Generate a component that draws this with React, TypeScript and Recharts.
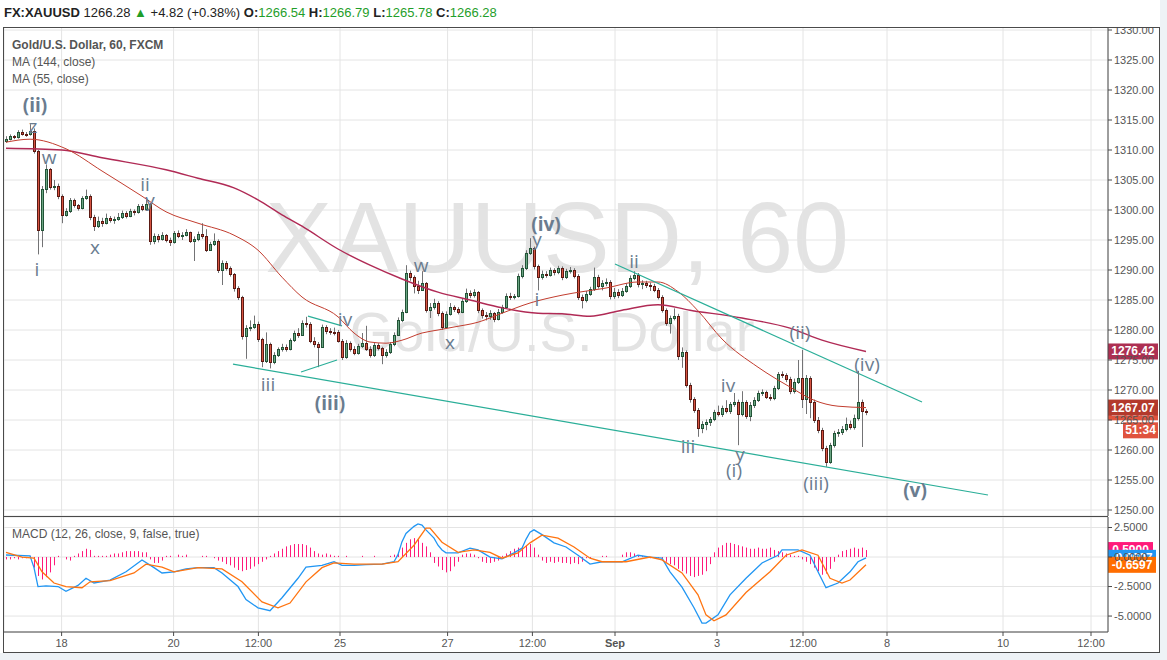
import React from 'react';
import {
  Bar,
  CartesianGrid,
  ComposedChart,
  Line,
  ReferenceDot,
  ReferenceLine,
  XAxis,
  YAxis,
} from 'recharts';

// hourly candles as [high, low, close]; each open is the previous close
const firstOpen = 1311.5;
const candles: [number, number, number][] = [
  [1312.3, 1311.2, 1311.8], [1312.6, 1311.6, 1312.3], [1312.5, 1311.8, 1312.1], [1313.3, 1311.9, 1313.0],
  [1313.4, 1312.4, 1312.7], [1313.0, 1312.2, 1312.6], [1314.3, 1312.4, 1313.2], [1313.6, 1309.4, 1309.8],
  [1310.0, 1292.6, 1296.7], [1304.0, 1293.8, 1303.5], [1307.6, 1302.8, 1306.8], [1307.0, 1303.4, 1303.9],
  [1305.0, 1303.3, 1304.0], [1304.4, 1301.8, 1302.3], [1302.6, 1297.8, 1299.2], [1300.3, 1298.9, 1299.8],
  [1302.0, 1299.5, 1301.7], [1301.9, 1300.4, 1300.8], [1301.0, 1299.9, 1300.3], [1302.3, 1300.1, 1302.0],
  [1303.4, 1301.7, 1302.4], [1302.6, 1298.3, 1298.8], [1299.2, 1296.5, 1297.4], [1298.9, 1297.0, 1298.1],
  [1298.7, 1297.2, 1297.8], [1299.4, 1297.6, 1298.6], [1299.0, 1297.9, 1298.3], [1298.9, 1297.7, 1298.5],
  [1299.5, 1298.2, 1298.8], [1299.9, 1298.5, 1299.5], [1299.8, 1298.6, 1299.0], [1300.2, 1298.8, 1299.8],
  [1300.1, 1299.1, 1299.6], [1301.0, 1299.4, 1300.7], [1301.0, 1299.8, 1300.2], [1302.0, 1300.0, 1301.0],
  [1301.2, 1294.2, 1294.8], [1296.1, 1294.3, 1295.6], [1296.0, 1294.6, 1295.2], [1296.3, 1294.9, 1295.8],
  [1296.0, 1294.6, 1295.0], [1295.4, 1294.0, 1294.6], [1296.5, 1294.4, 1296.2], [1296.6, 1295.3, 1295.7],
  [1296.3, 1295.0, 1295.9], [1296.8, 1295.6, 1296.3], [1296.4, 1294.5, 1294.9], [1295.6, 1291.5, 1295.1],
  [1296.4, 1294.8, 1296.0], [1297.8, 1295.2, 1295.6], [1296.8, 1293.0, 1293.4], [1294.7, 1293.2, 1294.3],
  [1296.1, 1294.0, 1294.9], [1295.1, 1289.5, 1290.0], [1291.6, 1287.5, 1291.2], [1291.5, 1289.9, 1290.3],
  [1290.6, 1288.9, 1289.3], [1289.5, 1286.4, 1287.0], [1287.3, 1285.0, 1285.5], [1285.7, 1278.4, 1279.0],
  [1280.8, 1275.2, 1280.4], [1281.6, 1279.8, 1280.5], [1282.4, 1280.2, 1281.0], [1281.4, 1278.0, 1278.5],
  [1278.7, 1273.8, 1274.8], [1279.6, 1274.5, 1277.7], [1277.9, 1273.6, 1274.6], [1276.3, 1274.3, 1275.8],
  [1277.1, 1275.5, 1276.8], [1277.7, 1276.4, 1277.2], [1277.6, 1276.4, 1276.9], [1278.6, 1276.6, 1278.3],
  [1279.9, 1278.0, 1279.5], [1280.3, 1278.7, 1279.2], [1281.6, 1279.0, 1281.2], [1282.2, 1280.4, 1281.0],
  [1281.3, 1277.8, 1278.2], [1278.8, 1277.1, 1277.6], [1278.0, 1273.8, 1277.2], [1280.9, 1277.0, 1280.5],
  [1280.8, 1279.3, 1279.8], [1280.3, 1279.2, 1279.7], [1280.4, 1279.1, 1279.6], [1280.0, 1277.9, 1278.2],
  [1278.5, 1275.0, 1275.5], [1278.3, 1275.2, 1277.8], [1278.1, 1276.4, 1276.8], [1277.3, 1275.8, 1276.2],
  [1277.7, 1275.9, 1277.3], [1279.5, 1277.0, 1277.8], [1280.7, 1276.5, 1276.9], [1277.3, 1275.4, 1275.8],
  [1277.9, 1275.5, 1277.5], [1277.8, 1276.6, 1277.0], [1277.2, 1274.3, 1275.8], [1276.8, 1275.4, 1276.3],
  [1278.0, 1276.0, 1277.6], [1279.6, 1277.3, 1279.2], [1282.1, 1279.0, 1281.7], [1283.4, 1281.3, 1283.0],
  [1290.8, 1282.8, 1289.5], [1289.9, 1288.2, 1288.8], [1289.1, 1286.1, 1287.4], [1288.2, 1286.0, 1286.7],
  [1289.8, 1286.5, 1287.8], [1288.0, 1282.9, 1283.3], [1284.5, 1282.0, 1283.8], [1285.2, 1283.4, 1284.5],
  [1284.8, 1282.3, 1282.8], [1283.1, 1280.0, 1280.5], [1283.1, 1280.3, 1282.7], [1284.5, 1282.4, 1283.8],
  [1284.1, 1283.0, 1283.5], [1283.8, 1282.6, 1283.0], [1285.2, 1282.8, 1284.8], [1286.9, 1284.5, 1286.2],
  [1286.6, 1285.3, 1285.8], [1286.8, 1285.4, 1286.3], [1286.5, 1282.8, 1283.3], [1283.6, 1281.9, 1282.5],
  [1283.0, 1281.6, 1282.3], [1283.3, 1281.7, 1282.8], [1283.0, 1281.3, 1281.9], [1283.5, 1281.6, 1283.0],
  [1284.2, 1282.7, 1283.8], [1286.1, 1283.5, 1285.7], [1286.2, 1285.0, 1285.5], [1286.0, 1285.1, 1285.6],
  [1289.4, 1285.4, 1289.0], [1290.8, 1288.6, 1290.3], [1293.3, 1290.0, 1292.8], [1295.3, 1292.5, 1293.7],
  [1293.9, 1290.1, 1290.6], [1290.9, 1286.6, 1288.8], [1289.9, 1288.4, 1289.4], [1289.8, 1288.7, 1289.2],
  [1290.4, 1288.9, 1290.0], [1290.3, 1289.1, 1289.6], [1290.7, 1289.3, 1290.3], [1290.6, 1288.3, 1288.8],
  [1290.2, 1288.5, 1289.8], [1290.5, 1289.4, 1290.0], [1290.3, 1288.6, 1289.0], [1289.3, 1285.0, 1285.5],
  [1285.9, 1283.6, 1285.0], [1286.5, 1284.6, 1286.0], [1287.2, 1285.7, 1286.8], [1290.4, 1286.5, 1288.8],
  [1289.2, 1286.9, 1287.3], [1288.3, 1286.6, 1287.8], [1288.6, 1287.3, 1288.0], [1288.3, 1285.1, 1285.6],
  [1287.0, 1285.2, 1286.4], [1286.8, 1285.3, 1285.8], [1287.0, 1285.5, 1286.5], [1287.8, 1286.2, 1287.3],
  [1289.1, 1287.0, 1288.7], [1289.8, 1288.3, 1289.2], [1289.5, 1287.1, 1287.6], [1288.3, 1286.8, 1287.8],
  [1288.2, 1287.0, 1287.5], [1287.9, 1286.5, 1287.4], [1287.7, 1286.3, 1286.7], [1287.0, 1285.1, 1285.5],
  [1285.8, 1282.9, 1283.3], [1283.6, 1280.7, 1281.2], [1282.4, 1279.4, 1282.0], [1283.6, 1281.6, 1282.4],
  [1282.7, 1275.0, 1275.6], [1277.1, 1273.7, 1276.3], [1276.6, 1270.4, 1270.9], [1271.2, 1267.9, 1268.5],
  [1268.8, 1266.2, 1266.7], [1267.0, 1262.2, 1263.7], [1264.8, 1262.8, 1264.3], [1265.1, 1263.3, 1264.6],
  [1265.5, 1264.0, 1265.1], [1266.7, 1264.8, 1266.3], [1267.4, 1265.6, 1266.0], [1267.4, 1265.5, 1267.0],
  [1268.3, 1266.1, 1266.5], [1268.0, 1266.0, 1267.6], [1269.5, 1267.2, 1268.0], [1268.4, 1260.8, 1266.0],
  [1269.8, 1265.6, 1268.0], [1268.3, 1265.2, 1265.7], [1268.0, 1264.8, 1267.5], [1268.8, 1267.0, 1268.3],
  [1269.9, 1268.0, 1269.5], [1270.1, 1269.0, 1269.6], [1269.9, 1268.5, 1268.9], [1269.3, 1268.2, 1268.6],
  [1270.7, 1268.3, 1270.3], [1273.0, 1270.0, 1272.6], [1273.1, 1272.0, 1272.5], [1272.8, 1271.3, 1271.8],
  [1272.2, 1269.3, 1269.8], [1271.9, 1269.4, 1271.4], [1275.0, 1271.0, 1272.0], [1276.7, 1267.0, 1268.5],
  [1272.5, 1266.0, 1272.0], [1272.3, 1265.3, 1268.0], [1268.4, 1264.5, 1265.0], [1265.5, 1262.8, 1263.3],
  [1263.7, 1259.8, 1260.3], [1260.7, 1257.2, 1258.0], [1261.2, 1257.7, 1260.8], [1263.2, 1260.4, 1262.8],
  [1263.5, 1262.2, 1263.0], [1264.0, 1262.5, 1263.5], [1265.4, 1263.1, 1264.3], [1264.9, 1263.4, 1263.8],
  [1265.9, 1263.4, 1265.4], [1273.2, 1264.9, 1268.0], [1268.4, 1260.5, 1266.5], [1266.8, 1265.8, 1266.3],
];

// moving averages read at a few candle indices: [index, value]
const ma144Points: [number, number][] = [
  [0, 1310.3], [14, 1310.0], [24, 1308.7], [40, 1306.7], [48, 1305.3], [57, 1303.7], [63, 1301.7],
  [69, 1299.2], [74, 1297.3], [83, 1293.5], [91, 1290.8], [99, 1288.5], [108, 1286.3], [116, 1285.0],
  [124, 1283.7], [133, 1282.8], [139, 1282.7], [146, 1282.3], [154, 1283.3], [163, 1284.2], [171, 1283.3],
  [184, 1282.0], [196, 1280.3], [204, 1278.3], [215, 1276.42],
];
const ma55Points: [number, number][] = [
  [0, 1311.3], [6, 1311.8], [15, 1310.2], [24, 1306.5], [34, 1302.3], [40, 1299.7], [48, 1297.8],
  [57, 1295.8], [63, 1293.3], [69, 1288.8], [74, 1285.5], [83, 1282.2], [87, 1279.5], [91, 1278.0],
  [95, 1277.8], [99, 1278.3], [104, 1279.5], [108, 1280.0], [112, 1280.5], [118, 1281.3], [124, 1282.8],
  [131, 1284.5], [139, 1285.8], [150, 1287.0], [158, 1288.0], [163, 1288.0], [168, 1286.4], [173, 1283.2],
  [179, 1278.5], [188, 1273.8], [196, 1270.5], [202, 1268.3], [208, 1267.3], [215, 1267.07],
];

const macdPoints: [number, number][] = [
  [0, 0.17], [6, 0.1], [7, -0.9], [8, -2.5], [10, -2.45], [13, -2.5], [15, -2.9], [18, -2.4], [20, -1.8],
  [22, -2.2], [26, -1.95], [30, -1.25], [34, -0.25], [37, -0.9], [39, -1.35], [42, -1.25], [45, -1.0],
  [48, -0.9], [52, -0.9], [54, -1.35], [58, -2.5], [60, -3.6], [63, -4.3], [66, -4.55], [69, -3.45],
  [73, -1.8], [75, -0.85], [79, -0.7], [82, -0.4], [84, -0.7], [87, -0.7], [90, -0.65], [94, -0.6],
  [97, -0.4], [98, 0.2], [99, 1.3], [100, 2.0], [102, 2.6], [103, 2.8], [104, 2.7], [105, 2.3], [107, 1.6],
  [108, 1.0], [109, 0.6], [110, 0.35], [113, 0.35], [116, 0.75], [118, 0.6], [121, 0.0], [124, -0.15],
  [127, 0.35], [129, 0.75], [130, 1.5], [131, 2.1], [132, 2.3], [134, 1.9], [137, 1.2], [140, 0.85],
  [143, 0.15], [146, -0.6], [149, -0.4], [154, -0.4], [158, 0.15], [161, 0.0], [164, -0.1], [166, -1.25],
  [169, -2.55], [172, -4.3], [174, -5.6], [175, -5.6], [178, -4.9], [181, -3.2], [185, -1.8], [189, -0.5],
  [193, 0.15], [194, 0.6], [198, 0.6], [201, 0.15], [203, -1.25], [205, -2.6], [208, -2.2], [211, -1.25],
  [213, -0.4], [215, -0.0697],
];
const signalPoints: [number, number][] = [
  [0, 0.4], [4, 0.0], [7, -0.1], [9, -1.25], [12, -2.2], [15, -2.5], [19, -2.6], [21, -2.1], [26, -2.0],
  [32, -1.35], [35, -0.6], [39, -0.85], [42, -1.25], [48, -0.9], [54, -1.0], [59, -2.1], [64, -3.8],
  [68, -4.3], [71, -3.9], [75, -2.1], [79, -0.9], [82, -0.5], [87, -0.6], [94, -0.6], [98, -0.4],
  [102, 1.0], [105, 2.45], [106, 2.45], [109, 1.25], [113, 0.4], [117, 0.6], [121, 0.4], [124, -0.1],
  [128, 0.35], [131, 1.2], [134, 1.85], [138, 1.6], [142, 0.85], [146, -0.1], [149, -0.4], [155, -0.4],
  [161, 0.0], [164, -0.25], [169, -1.35], [173, -3.2], [175, -4.9], [177, -5.4], [180, -4.9], [185, -3.0],
  [191, -1.25], [195, 0.15], [199, 0.6], [203, 0.15], [206, -1.8], [209, -2.2], [211, -1.95], [215, -0.6597],
];

const histogram: number[] = [
  -0.2, -0.2, -0.1, -0.2, -0.1, -0.1, 0.1, -0.9, -1.6, -1.9, -1.7, -1.3, -0.7, 0.1, 0, -0.2, -0.3, 0.1, 0.3, 0.5,
  0.7, 0.6, 0.1, 0.1, 0.1, 0.1, 0.2, 0.3, 0.3, 0.4, 0.5, 0.5, 0.5, 0.5, 0.4, 0.4, -0.2, -0.5, -0.5, -0.3,
  0.1, 0.1, 0, 0.2, 0.1, 0.2, 0, 0, 0, 0.1, 0.1, 0, -0.1, -0.3, -0.4, -0.6, -0.7, -0.9, -1.1, -1.2,
  -1.1, -1.0, -0.8, -0.6, -0.4, -0.2, 0.1, 0.3, 0.5, 0.7, 0.9, 1.0, 1.1, 1.1, 1.1, 1.0, 0.8, 0.5, 0.3, 0.2,
  0.3, 0.2, 0.1, 0.1, 0, 0.1, 0, 0, 0, 0.1, 0, 0, 0.1, 0, 0, 0, 0.1, 0.2, 0.4, 0.8,
  1.2, 1.5, 1.6, 1.5, 1.2, 0.9, 0.4, -0.5, -0.8, -1.1, -1.3, -1.2, -0.8, -0.4, 0.2, 0.3, 0.3, 0.2, -0.1, -0.4,
  -0.5, -0.5, -0.4, -0.3, 0.1, 0.3, 0.5, 0.7, 0.8, 0.9, 1.0, 1.1, 0.8, 0.2, -0.3, -0.5, -0.4, -0.5, -0.4, -0.5,
  -0.5, -0.6, -0.5, -0.6, -0.4, -0.1, -0.1, 0, 0, 0.1, 0.1, 0, 0, 0, 0.2, 0.4, 0.4, 0.3, 0.1, 0.1,
  0, -0.1, 0, -0.1, -0.2, -0.4, -0.6, -0.7, -1.0, -1.2, -1.4, -1.6, -1.7, -1.6, -1.5, -1.2, -0.6, 0.4, 0.8, 1.0,
  1.2, 1.2, 1.1, 1.0, 0.9, 0.8, 0.7, 0.7, 0.8, 0.7, 0.7, 0.8, 0.6, 0.5, 0.4, 0.3, 0.2, 0.1, 0.1, -0.2,
  -0.4, -0.6, -0.9, -1.2, -1.5, -1.4, -1.0, -0.4, 0.2, 0.5, 0.6, 0.7, 0.8, 0.7, 0.8, 0.59,
];

const slotCount = 276; // candles plus empty future bars on the right

const timeTicks = [13.9, 41.9, 63.1, 83.5, 110.4, 131.6, 152.25, 177.75, 199.25, 220.25, 249.25, 271.25];
const timeLabels = ['18', '20', '12:00', '25', '27', '12:00', 'Sep', '3', '12:00', '8', '10', '12:00'];
const priceTicks = [1250, 1255, 1260, 1265, 1270, 1275, 1280, 1285, 1290, 1295, 1300, 1305, 1310, 1315, 1320, 1325, 1330];
const macdTicks = [2.5, 0, -2.5, -5];

const waveLabels: { i: number; p: number; text: string; bold?: boolean }[] = [
  { i: 7.25, p: 1317.3, text: '(ii)', bold: true },
  { i: 6.75, p: 1313.8, text: 'z' },
  { i: 10.75, p: 1308.7, text: 'w' },
  { i: 7.75, p: 1290.0, text: 'i' },
  { i: 34.75, p: 1304.2, text: 'ii' },
  { i: 36, p: 1301.5, text: 'y' },
  { i: 22.25, p: 1293.7, text: 'x' },
  { i: 65.5, p: 1270.8, text: 'iii' },
  { i: 81, p: 1267.7, text: '(iii)', bold: true },
  { i: 84.75, p: 1281.7, text: 'iv' },
  { i: 103.75, p: 1290.7, text: 'w' },
  { i: 111, p: 1277.8, text: 'x' },
  { i: 135, p: 1297.5, text: '(iv)', bold: true },
  { i: 132.75, p: 1295.0, text: 'y' },
  { i: 132.75, p: 1285.0, text: 'i' },
  { i: 157, p: 1291.3, text: 'ii' },
  { i: 170.5, p: 1260.5, text: 'iii' },
  { i: 180.5, p: 1270.7, text: 'iv' },
  { i: 183.5, p: 1259.2, text: 'y' },
  { i: 182, p: 1256.5, text: '(i)' },
  { i: 198.5, p: 1279.5, text: '(ii)' },
  { i: 202.5, p: 1254.3, text: '(iii)' },
  { i: 215.25, p: 1274.2, text: '(iv)' },
  { i: 227.25, p: 1253.2, text: '(v)', bold: true },
];

// drawn trend lines: [startIndex, startPrice, endIndex, endPrice]
const trendLines: [number, number, number, number][] = [
  [56.75, 1274.3, 245.5, 1252.5],
  [152.25, 1291.0, 229, 1268.0],
  [73.75, 1273.0, 82.75, 1275.0],
  [75.5, 1282.3, 84, 1280.7],
];

const lastClose = 1266.28;

const ma144Map = new Map(ma144Points);
const ma55Map = new Map(ma55Points);
const macdMap = new Map(macdPoints);
const signalMap = new Map(signalPoints);

const rows = Array.from({ length: slotCount }, (_, i) => {
  const k = candles[i];
  const row: any = {
    i,
    ma144: ma144Map.get(i) ?? null,
    ma55: ma55Map.get(i) ?? null,
    macd: macdMap.get(i) ?? null,
    signal: signalMap.get(i) ?? null,
    hist: histogram[i] ?? null,
  };
  if (k) {
    row.o = i === 0 ? firstOpen : candles[i - 1][2];
    row.h = k[0];
    row.l = k[1];
    row.c = k[2];
    row.range = [k[1], k[0]];
  }
  return row;
});

const AXIS_FONT = 'Liberation Sans, Arial, sans-serif';
const LABEL_FONT = '"Open Sans", "Liberation Sans", sans-serif';
const WAVE_COLOR = '#6a7c8f';

function Candle(props: any) {
  const { x, width, y, height, payload } = props;
  if (!payload || payload.h == null || !isFinite(y) || !isFinite(height)) return null;
  const { o, h, l, c } = payload;
  const span = h - l || 1;
  const py = (v: number) => y + ((h - v) / span) * height;
  const center = Math.round(x + width / 2);
  const up = c >= o;
  const top = Math.round(py(Math.max(o, c))) + 0.5;
  const bottom = Math.max(Math.round(py(Math.min(o, c))) + 0.5, top + 1);
  return (
    <g>
      <line x1={center + 0.5} x2={center + 0.5} y1={y} y2={y + height} stroke="#737375" strokeWidth={1} />
      <rect
        x={center - 0.5}
        y={top}
        width={2}
        height={bottom - top}
        fill={up ? '#6ba583' : '#d75442'}
        stroke={up ? '#225437' : '#5b1a13'}
        strokeWidth={1}
      />
    </g>
  );
}

function HistBar(props: any) {
  const { x, width, y, height } = props;
  if (!isFinite(y) || !isFinite(height)) return null;
  const top = Math.min(y, y + height);
  return <rect x={Math.round(x + width / 2)} y={top} width={1} height={Math.abs(height)} fill="#ff1a7a" />;
}

function Badge(props: any) {
  const { viewBox, text, bg, width = 50, dx = 0, dy = 0 } = props;
  if (!viewBox) return null;
  const x = viewBox.x + viewBox.width + dx;
  const y = viewBox.y + dy;
  return (
    <g>
      <rect x={x} y={y - 8} width={width} height={16} fill={bg} />
      <text x={x + width / 2} y={y + 4} textAnchor="middle" fill="#fff" fontSize={12} fontWeight={700} fontFamily={AXIS_FONT}>
        {text}
      </text>
    </g>
  );
}

function TimeTick(props: any) {
  const label = timeLabels[timeTicks.indexOf(props.payload.value)] ?? '';
  return (
    <text x={props.x} y={props.y} dy={9} textAnchor="middle" fontSize={11} fill="#555" fontFamily={AXIS_FONT} fontWeight={label === 'Sep' ? 700 : 400}>
      {label}
    </text>
  );
}

const margin = { top: 0, right: 7, bottom: 0, left: 4 };

function PricePane() {
  return (
    <ComposedChart width={1167} height={489} data={rows} margin={margin}>
      <XAxis xAxisId="num" dataKey="i" type="number" domain={[-0.5, slotCount - 0.5]} ticks={timeTicks} allowDataOverflow hide height={0} />
      <XAxis dataKey="i" type="category" hide height={0} />
      <YAxis
        orientation="right"
        width={52}
        domain={[1249, 1330.5]}
        ticks={priceTicks}
        interval={0}
        allowDataOverflow
        tickFormatter={(v: number) => v.toFixed(2)}
        tick={{ fontSize: 11, fill: '#555', fontFamily: AXIS_FONT }}
        tickSize={4}
        tickMargin={2}
        axisLine={{ stroke: '#4a4a4a' }}
        tickLine={{ stroke: '#4a4a4a' }}
      />
      <CartesianGrid xAxisId="num" stroke="#e4e4e4" />
      <Line dataKey="ma144" type="monotone" stroke="#b02a55" strokeWidth={1.4} dot={false} connectNulls isAnimationActive={false} />
      <Line dataKey="ma55" type="monotone" stroke="#c23d2f" strokeWidth={1} dot={false} connectNulls isAnimationActive={false} />
      <Bar dataKey="range" shape={(p: any) => <Candle {...p} />} isAnimationActive={false} />
      {trendLines.map(([x1, y1, x2, y2], k) => (
        <ReferenceLine
          key={`t${k}`}
          xAxisId="num"
          segment={[{ x: x1, y: y1 }, { x: x2, y: y2 }]}
          stroke="#2aae98"
          strokeWidth={1.2}
          ifOverflow="visible"
        />
      ))}
      {waveLabels.map((w, k) => (
        <ReferenceDot
          key={`w${k}`}
          xAxisId="num"
          x={w.i}
          y={w.p}
          r={0}
          ifOverflow="visible"
          shape={(p: any) => (
            <text
              x={p.cx}
              y={p.cy}
              dy={6}
              textAnchor="middle"
              fontSize={19}
              fontWeight={w.bold ? 700 : 400}
              fill={WAVE_COLOR}
              fontFamily={LABEL_FONT}
            >
              {w.text}
            </text>
          )}
        />
      ))}
      <ReferenceLine y={lastClose} stroke="none" ifOverflow="visible" label={<Badge text={lastClose.toFixed(2)} bg="#e0533e" />} />
      <ReferenceLine y={lastClose} stroke="none" ifOverflow="visible" label={<Badge text="51:34" bg="#e0533e" width={35} dx={15} dy={18} />} />
      <ReferenceLine y={1267.07} stroke="none" ifOverflow="visible" label={<Badge text="1267.07" bg="#b3392c" />} />
      <ReferenceLine y={1276.42} stroke="none" ifOverflow="visible" label={<Badge text="1276.42" bg="#ad2f52" />} />
    </ComposedChart>
  );
}

function MacdPane() {
  const lastMacd = macdPoints[macdPoints.length - 1][1];
  const lastSignal = signalPoints[signalPoints.length - 1][1];
  const lastHist = histogram[histogram.length - 1];
  return (
    <ComposedChart width={1167} height={136} data={rows} margin={margin}>
      <XAxis
        xAxisId="num"
        dataKey="i"
        type="number"
        domain={[-0.5, slotCount - 0.5]}
        ticks={timeTicks}
        interval={0}
        allowDataOverflow
        height={21}
        tick={<TimeTick />}
        tickSize={4}
        tickMargin={2}
        axisLine={{ stroke: '#4a4a4a' }}
        tickLine={{ stroke: '#4a4a4a' }}
      />
      <XAxis dataKey="i" type="category" hide height={0} />
      <YAxis
        orientation="right"
        width={52}
        domain={[-6.35, 3.39]}
        ticks={macdTicks}
        interval={0}
        allowDataOverflow
        tickFormatter={(v: number) => v.toFixed(4)}
        tick={{ fontSize: 11, fill: '#555', fontFamily: AXIS_FONT }}
        tickSize={4}
        tickMargin={2}
        axisLine={{ stroke: '#4a4a4a' }}
        tickLine={{ stroke: '#4a4a4a' }}
      />
      <CartesianGrid xAxisId="num" stroke="#e4e4e4" />
      <Bar dataKey="hist" shape={(p: any) => <HistBar {...p} />} isAnimationActive={false} />
      <Line dataKey="macd" type="linear" stroke="#2196f3" strokeWidth={1.3} dot={false} connectNulls isAnimationActive={false} />
      <Line dataKey="signal" type="linear" stroke="#ff7410" strokeWidth={1.3} dot={false} connectNulls isAnimationActive={false} />
      <ReferenceLine y={lastHist} stroke="none" ifOverflow="visible" label={<Badge text={lastHist.toFixed(4)} bg="#ff1a7a" width={45} />} />
      <ReferenceLine y={lastMacd} stroke="none" ifOverflow="visible" label={<Badge text={lastMacd.toFixed(4)} bg="#2196f3" width={48} />} />
      <ReferenceLine y={lastSignal} stroke="none" ifOverflow="visible" label={<Badge text={lastSignal.toFixed(4)} bg="#ff6d00" width={48} />} />
    </ComposedChart>
  );
}

export default function App() {
  const abs = (s: React.CSSProperties): React.CSSProperties => ({ position: 'absolute', ...s });
  const green = { color: '#1f9e2a' };
  return (
    <div style={abs({ left: 0, top: 0, width: 1167, height: 660, background: '#eef2f6', overflow: 'hidden', fontFamily: AXIS_FONT })}>
      <div style={abs({ left: 0, top: 0, width: 1160, height: 653, background: '#fff' })} />
      <div style={abs({ left: 4, top: 5, fontSize: 13, color: '#222', whiteSpace: 'nowrap' })}>
        <b>FX:XAUUSD</b> 1266.28 <span style={green}>▲</span> +4.82 (+0.38%) <b>O:</b>
        <span style={green}>1266.54</span> <b>H:</b>
        <span style={green}>1266.79</span> <b>L:</b>
        <span style={green}>1265.78</span> <b>C:</b>
        <span style={green}>1266.28</span>
      </div>
      <div style={abs({ left: 157, top: 187, width: 800, textAlign: 'center', fontSize: 100, lineHeight: '100px', color: '#e3e3e3', whiteSpace: 'nowrap' })}>
        XAUUSD, 60
      </div>
      <div style={abs({ left: 252, top: 304, width: 600, textAlign: 'center', fontSize: 56, lineHeight: '56px', color: '#e3e3e3', whiteSpace: 'nowrap' })}>
        Gold/U.S. Dollar
      </div>
      <div style={abs({ left: 0, top: 27 })}>
        <PricePane />
      </div>
      <div style={abs({ left: 0, top: 517 })}>
        <MacdPane />
      </div>
      <div style={abs({ left: 12, top: 37, fontSize: 12, color: '#555', lineHeight: '17px' })}>
        <div style={{ fontWeight: 700 }}>Gold/U.S. Dollar, 60, FXCM</div>
        <div>MA (144, close)</div>
        <div>MA (55, close)</div>
      </div>
      <div style={abs({ left: 12, top: 527, fontSize: 12, color: '#555' })}>MACD (12, 26, close, 9, false, true)</div>
      <div style={abs({ left: 3, top: 516, width: 1105, height: 1, background: '#4a4a4a' })} />
      <div style={abs({ left: 3, top: 27, width: 1157, height: 626, border: '1px solid #4a4a4a', boxSizing: 'border-box' })} />
    </div>
  );
}
